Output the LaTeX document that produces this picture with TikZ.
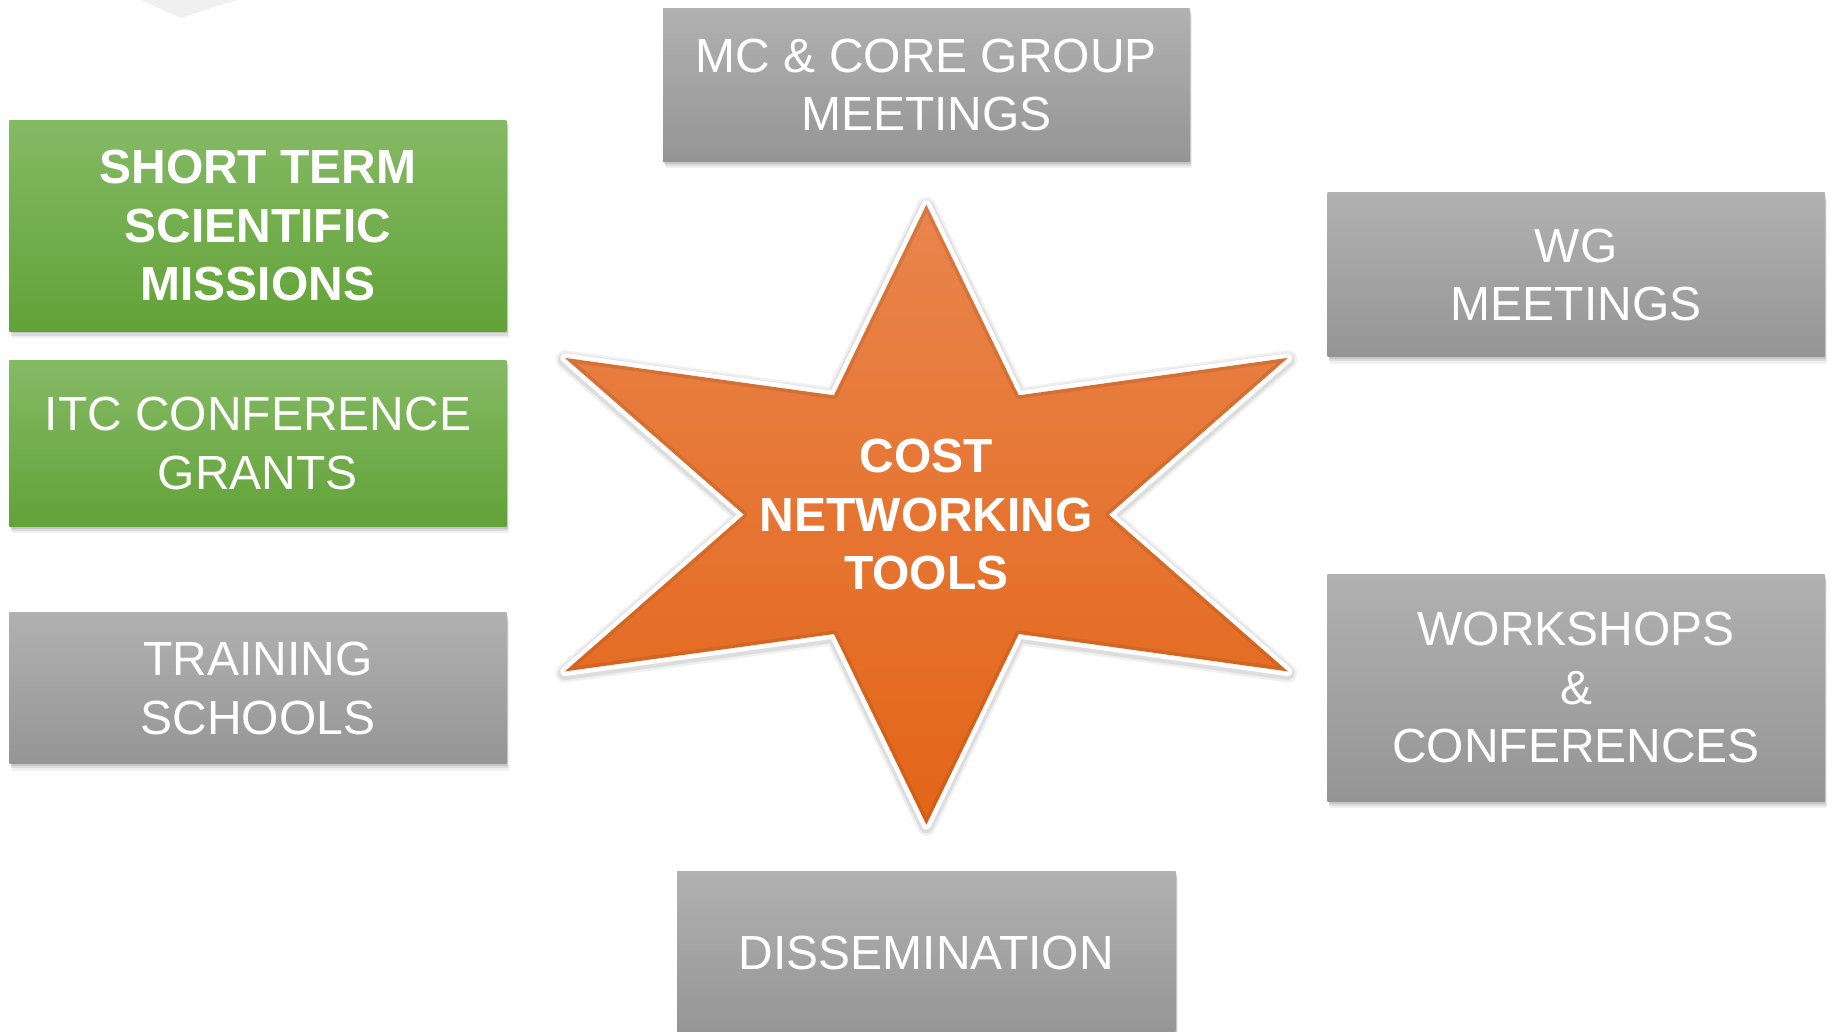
\documentclass[tikz,border=0pt]{standalone}
\usepackage{fontspec}
\setmainfont{Liberation Sans}
\usetikzlibrary{shadows}
\definecolor{gtop}{RGB}{133,186,101}
\definecolor{gbot}{RGB}{98,162,55}
\definecolor{ytop}{RGB}{177,177,177}
\definecolor{ybot}{RGB}{149,149,149}
\definecolor{otop}{RGB}{233,133,76}
\definecolor{obot}{RGB}{227,101,24}
\definecolor{chev}{RGB}{240,240,240}
\tikzset{
  boxshadow/.style={
    drop shadow={opacity=0.12,shadow xshift=2pt,shadow yshift=-6pt},
    drop shadow={opacity=0.18,shadow xshift=1.5pt,shadow yshift=-4pt},
    drop shadow={opacity=0.25,shadow xshift=1pt,shadow yshift=-2pt}},
  box/.style={rectangle, inner sep=0pt, minimum width=425pt, text=white, align=center,
    font=\fontsize{41}{50}\selectfont, boxshadow},
  greenbox/.style={box, top color=gtop, bottom color=gbot},
  graybox/.style={box, top color=ytop, bottom color=ybot},
  startext/.style={text=white, align=center, font=\fontsize{41}{50}\selectfont\bfseries},
  starpath/.style={line join=round},
}
\def\starshape{(792,175) -- (871,338) -- (1101,306) -- (948,440) -- (1101,574) -- (871,542)
  -- (792,705) -- (713,542) -- (483,574) -- (636,440) -- (483,306) -- (713,338) -- cycle}
\begin{document}
\begin{tikzpicture}[x=1pt,y=-1pt]
\useasboundingbox (0,0) rectangle (1568,881.5);
\clip (0,0) rectangle (1568,881.5);
\fill[chev] (112,-4) -- (154.4,15.4) -- (215,-4) -- cycle;

% boxes
\node[greenbox, minimum height=180pt, font=\fontsize{41}{50}\selectfont\bfseries] (stsm) at (220.5,193) {SHORT TERM\\SCIENTIFIC\\MISSIONS};
\node[greenbox, minimum height=142pt] (itc) at (220.5,379) {ITC CONFERENCE\\GRANTS};
\node[graybox, minimum height=129pt] (train) at (220.5,588.5) {TRAINING\\SCHOOLS};
\node[graybox, minimum height=131pt, minimum width=450pt] (mc) at (792,72.5) {MC \& CORE GROUP\\MEETINGS};
\node[graybox, minimum height=140pt] (wg) at (1347.5,235) {WG\\MEETINGS};
\node[graybox, minimum height=194pt] (ws) at (1347.5,588) {WORKSHOPS\\\&\\CONFERENCES};
\node[graybox, minimum height=140pt, minimum width=426pt] (dis) at (792,815) {DISSEMINATION};

% star: soft halo, white rim, orange body
\begin{scope}[yshift=-1.5pt]
\draw[starpath, black, opacity=0.06, line width=16pt] \starshape;
\draw[starpath, black, opacity=0.08, line width=12pt] \starshape;
\end{scope}
\draw[starpath, white, line width=8pt] \starshape;
\shade[top color=otop, bottom color=obot] \starshape;
\begin{scope}
\clip \starshape;
\draw[starpath, obot!60!black, opacity=0.18, line width=6pt] \starshape;
\end{scope}
\node[startext] (star) at (792,440) {COST\\NETWORKING\\TOOLS};
\end{tikzpicture}
\end{document}
